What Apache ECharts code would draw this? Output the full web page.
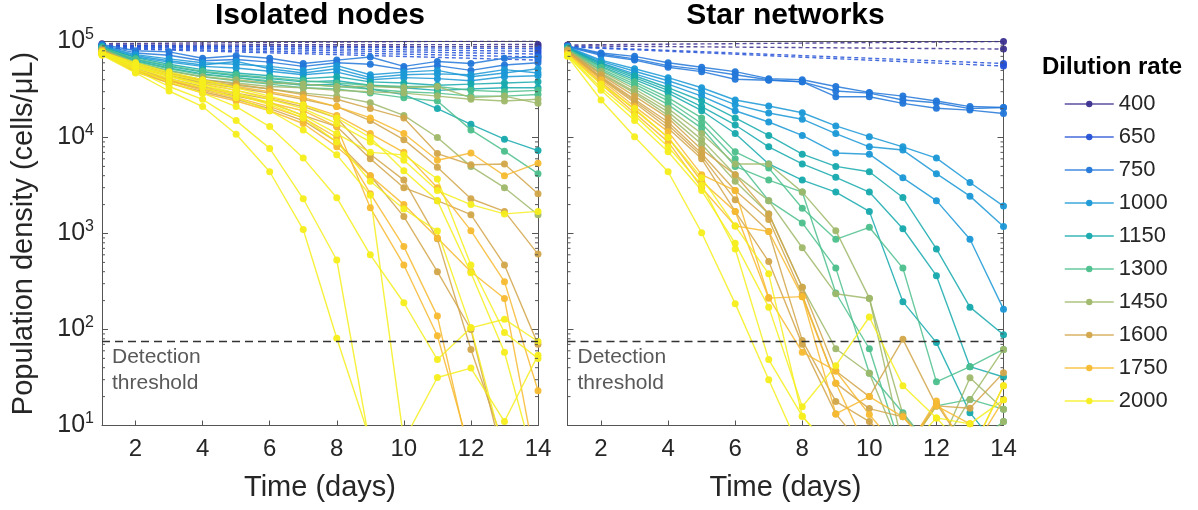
<!DOCTYPE html>
<html><head><meta charset="utf-8">
<script src="https://cdn.jsdelivr.net/npm/echarts@6/dist/echarts.min.js"></script>
<style>html,body{margin:0;padding:0;background:#fff}#c{width:1198px;height:510px}</style>
</head><body><div id="c"></div>
<script>
const days = [1,2,3,4,5,6,7,8,9,10,11,12,13,14];
const rates = ['400','650','750','1000','1150','1300','1450','1600','1750','2000'];
const rateColors = ['#3b2f8f','#2451d6','#2277d9','#1a98d6','#16a9ad','#4cbf8c','#9fb86a','#d2a64a','#f7ba30','#f5ee1c'];
const dashedRates = ['400','650'];
const panelTitles = ['Isolated nodes','Star networks'];
const xTickValues = [2,4,6,8,10,12,14];
const yTickValues = [10,100,1000,10000,100000];
const yTickExponents = ['1','2','3','4','5'];
const yMinorTickValues = [20,30,40,50,60,70,80,90,200,300,400,500,600,700,800,900,2000,3000,4000,5000,6000,7000,8000,9000,20000,30000,40000,50000,60000,70000,80000,90000];
const detectionThreshold = 75;

// ---------- Isolated nodes ----------
const iso400 = [
 [95000,null,null,null,null,null,null,null,null,null,null,null,null,102000],
 [92000,null,null,null,null,null,null,null,null,null,null,null,null,93000],
 [90000,null,null,null,null,null,null,null,null,null,null,null,null,88000]
];
const iso650 = [
 [91000,null,null,null,null,null,null,null,null,null,null,null,null,84000],
 [89000,null,null,null,null,null,null,null,null,null,null,null,null,79000],
 [88000,null,null,null,null,null,null,null,null,null,null,null,null,74000],
 [86000,null,null,null,null,null,null,null,null,null,null,null,null,69000],
 [85000,null,null,null,null,null,null,null,null,null,null,null,null,64000]
];
const iso750 = [
 [93000,80000,78000,67000,71000,67000,59000,64000,69000,55000,62000,59000,67000,69000],
 [91000,76000,72000,63000,65000,61000,55000,60000,58000,51000,56000,50000,57000,60000]
];
const iso1000 = [
 [90000,73000,66000,60000,58000,55000,50000,56000,45000,48000,50000,43000,47000,52000],
 [89000,71000,63000,57000,62000,52000,47000,52000,42000,45000,46000,45000,51000,47000],
 [87000,69000,61000,55000,53000,49000,45000,48000,40000,42000,41000,39000,43000,44000]
];
const iso1150 = [
 [88000,68000,58000,51000,47000,44000,41000,43000,38000,37000,35000,36000,37000,38000],
 [86000,65000,55000,48000,44000,41000,38000,39000,35000,33000,31000,32000,33000,33000],
 [85000,63000,53000,46000,42000,38000,35000,36000,32000,28000,20000,13700,9600,7300]
];
const iso1300 = [
 [86000,66000,56000,49000,45000,42000,39000,37000,35000,34000,34000,31000,30000,31000],
 [84000,62000,52000,45000,42000,39000,36000,34000,32000,30000,29000,27000,27000,28000],
 [82000,60000,50000,43000,39000,36000,33000,32000,29000,26000,24000,12000,7200,4200]
];
const iso1450 = [
 [83000,60000,49000,43000,40000,37000,36000,34000,34000,33000,34000,26000,27000,22700],
 [81000,57000,46000,40000,37000,34000,33000,31000,30000,29000,27000,25000,24000,25000],
 [79000,54000,44000,38000,35000,32000,29000,27000,23000,17000,10000,5000,3000,1570]
];
const iso1600 = [
 [81000,58000,47000,40000,36000,32000,28000,25000,20000,16000,6800,5200,5300,2600],
 [79000,55000,44000,37000,33000,29000,25000,21000,15000,9500,4900,2300,1700,610],
 [77000,52000,41000,34000,29000,25000,21000,16000,6700,3600,880,62,6,null],
 [76000,50000,39000,32000,27000,23000,17000,13000,6000,3000,2200,1570,470,70],
 [75000,49000,37000,30000,25000,20000,15000,9000,4000,1500,400,100,4,null]
];
const iso1750 = [
 [80000,57000,46000,39000,34000,30000,26000,21000,16000,11000,5800,6900,4000,5400],
 [78000,54000,43000,36000,31000,26000,22000,17000,11000,7000,3000,1070,315,23],
 [76000,51000,40000,33000,28000,23000,19000,13000,1850,470,86,5,null,null],
 [75000,50000,39000,31000,26000,21000,16000,10000,2600,730,138,4,null,null],
 [74000,48000,37000,29000,24000,19000,14000,8000,4000,2000,900,400,210,3]
];
const iso2000 = [
 [72000,47000,30500,21000,10800,4400,1100,81,7,null,null,null,null,null],
 [73000,50000,34000,25000,15000,7700,2300,530,6,null,null,null,null,null],
 [74000,52000,38000,29000,21000,13000,6100,2360,600,190,48.6,104,128,75],
 [75000,54000,41000,33000,26000,19000,12000,6600,2500,7,31.6,39.6,11,54],
 [76000,56000,44000,36000,29000,23000,17000,11000,7000,6600,3700,470,93,50],
 [77000,58000,46000,38000,31000,25000,20000,14000,9000,5800,2800,2000,1600,1700],
 [78000,60000,48000,40000,33000,27000,22000,16000,10000,4500,2200,390,58,3],
 [76000,55000,43000,35000,28000,22000,16000,9000,3500,1800,1060,104,5,null]
];

// ---------- Star networks ----------
const star400 = [
 [92000,null,null,null,null,null,null,null,null,null,null,null,null,100000],
 [90000,null,null,null,null,null,null,null,null,null,null,null,null,83500]
];
const star650 = [
 [89000,null,null,null,null,null,null,null,null,null,null,null,null,59000],
 [88000,null,null,null,null,null,null,null,null,null,null,null,null,55500]
];
const star750 = [
 [90000,76000,70000,60000,54000,48500,41000,40000,34000,29500,27000,24000,21000,20500],
 [89000,74000,66000,56000,51000,45000,40000,38000,30500,29000,24600,23000,20000,20500],
 [88000,72000,64000,54000,48500,40400,39500,38000,26600,26600,22700,20200,19300,17800]
];
const star1000 = [
 [88000,64000,52000,42000,33000,24600,21300,18100,13200,10200,8000,6100,3400,1930],
 [87000,62000,49000,39000,30000,22000,18000,15500,11000,8000,7400,4200,2450,1180],
 [86000,60000,46000,36000,27000,19000,14500,10500,6900,6700,3800,2200,870,163]
];
const star1150 = [
 [86000,59000,44000,33000,24000,16000,10500,6700,5000,4400,2370,690,171,88],
 [85000,57000,42000,31000,21000,13500,8000,5300,3850,2700,1120,364,41,32],
 [84000,55000,40000,29000,19000,11000,5300,3600,2700,1700,195,73,13.6,5]
];
const star1300 = [
 [84000,54000,38000,26000,16000,7100,4800,1830,870,1160,436,28.5,41,62],
 [83000,52000,36000,24000,14000,6000,2200,1290,436,35,13.6,5,6,11],
 [82000,50000,34000,22000,12500,5000,3600,2700,240,63,5,16,18.7,14.8]
];
const star1450 = [
 [82000,49000,32000,20000,11000,5300,5300,2700,1070,212,6,5,31.5,14.8],
 [81000,47000,30000,18500,9500,4100,2200,710,236,210,13,5,18.7,62],
 [80000,46000,29000,17000,8500,3500,1600,275,63,35,5,5,5,11]
];
const star1600 = [
 [80000,45000,27000,16000,7500,4100,1600,275,37,20,79,16,15.1,35.4],
 [79000,43000,25000,14500,6800,2800,1400,230,27.6,15,12.3,5,5,5],
 [78000,42000,24000,13500,6400,2250,1050,77,17.8,11,5,5,5,5],
 [77000,41000,23000,12500,6000,1700,510,70,13.2,5,5,17,5,5]
];
const star1750 = [
 [76000,40000,21000,11500,4100,2800,215,58,37,13,5,18,5,26],
 [75000,38000,19500,10000,3500,1700,212,220,27.6,5,5,16,10.4,5],
 [74000,36000,18000,9000,3000,1200,1050,220,13.2,20,12.3,5,5,18.5]
];
const star2000 = [
 [70000,24600,10200,4400,1020,186,30,5,null,null,null,null,null,null],
 [71000,31000,15000,7100,2800,790,171,15.7,42,135,26,12,10.4,18.5],
 [72000,33000,17000,8000,3200,690,48.6,12.5,5,null,null,null,null,null],
 [73000,36000,20000,10000,3800,1200,380,12.5,5,5,5,12,5,26]
];

const isolatedByRate = [iso400, iso650, iso750, iso1000, iso1150, iso1300, iso1450, iso1600, iso1750, iso2000];
const starByRate = [star400, star650, star750, star1000, star1150, star1300, star1450, star1600, star1750, star2000];

const FONT = "'Liberation Sans', Arial, Helvetica, sans-serif";
const AXIS_COLOR = '#555';
const TEXT_COLOR = '#262626';

const series = [];
[isolatedByRate, starByRate].forEach((panel, p) => {
  panel.forEach((rows, k) => {
    const rate = rates[k];
    const dashed = dashedRates.indexOf(rate) >= 0;
    rows.forEach((row) => {
      series.push({
        type: 'line', name: rate, xAxisIndex: p, yAxisIndex: p,
        data: days.map((d, i) => [d, row[i]]),
        connectNulls: dashed,
        symbol: 'circle', symbolSize: 7,
        lineStyle: { color: rateColors[k], width: 1.4, type: dashed ? [4, 3] : 'solid', opacity: 0.85 },
        itemStyle: { color: rateColors[k], opacity: 0.95 },
        emphasis: { disabled: true }, silent: true, animation: false
      });
    });
  });
  // detection threshold line
  series.push({
    type: 'line', name: 'threshold' + p, xAxisIndex: p, yAxisIndex: p, data: [],
    silent: true, animation: false,
    markLine: {
      silent: true, symbol: 'none', animation: false,
      lineStyle: { color: '#333', width: 1.4, type: [8, 5] },
      label: {
        show: true, position: 'insideStartBottom', formatter: 'Detection\nthreshold',
        fontSize: 21, lineHeight: 26, color: '#595959', fontFamily: FONT, align: 'left',
        distance: [10, 3]
      },
      data: [{ yAxis: detectionThreshold }]
    }
  });
  // minor log ticks on both sides
  series.push({
    type: 'custom', name: 'minor' + p, xAxisIndex: p, yAxisIndex: p, silent: true, animation: false, clip: false, z: 20,
    data: yMinorTickValues.map(v => [1, v]),
    renderItem: (params, api) => {
      const v = api.value(1);
      const a = api.coord([1, v]);
      const b = api.coord([14, v]);
      return { type: 'group', children: [
        { type: 'line', shape: { x1: a[0], y1: a[1], x2: a[0] + 3, y2: a[1] }, style: { stroke: AXIS_COLOR, lineWidth: 1 } },
        { type: 'line', shape: { x1: b[0] - 3, y1: b[1], x2: b[0], y2: b[1] }, style: { stroke: AXIS_COLOR, lineWidth: 1 } }
      ]};
    }
  });
});

const grids = [
  { left: 102, top: 41.5, width: 436, height: 384 },
  { left: 567.5, top: 41.5, width: 436, height: 384 }
];

const xAxes = [];
const yAxes = [];
['bottom', 'top'].forEach((pos) => {
  [0, 1].forEach((p) => {
    xAxes.push({
      type: 'value', gridIndex: p, min: 1, max: 14, position: pos,
      axisLine: { show: true, onZero: false, lineStyle: { color: AXIS_COLOR, width: 1 } },
      axisTick: { show: true, inside: true, length: 5, customValues: xTickValues, lineStyle: { color: AXIS_COLOR } },
      axisLabel: { show: pos === 'bottom', customValues: xTickValues, fontSize: 24, color: TEXT_COLOR, fontFamily: FONT, margin: 12 },
      splitLine: { show: false },
      name: pos === 'bottom' ? 'Time (days)' : '', nameLocation: 'middle', nameGap: 48,
      nameTextStyle: { fontSize: 29, color: TEXT_COLOR, fontFamily: FONT }
    });
  });
});
['left', 'right'].forEach((pos) => {
  [0, 1].forEach((p) => {
    const showLabel = pos === 'left' && p === 0;
    yAxes.push({
      type: 'log', logBase: 10, gridIndex: p, min: 10, max: 100000, position: pos,
      axisLine: { show: true, onZero: false, lineStyle: { color: AXIS_COLOR, width: 1 } },
      axisTick: { show: true, inside: true, length: 6, lineStyle: { color: AXIS_COLOR } },
      minorTick: { show: false },
      axisLabel: {
        show: showLabel, margin: 8, fontFamily: FONT, color: TEXT_COLOR,
        formatter: (v) => {
          let best = 0, bd = Infinity;
          yTickValues.forEach((t, i) => { const d = Math.abs(Math.log10(t) - Math.log10(v)); if (d < bd) { bd = d; best = i; } });
          return '{b|10}{s|' + yTickExponents[best] + '}';
        },
        rich: {
          b: { fontSize: 25, color: TEXT_COLOR, fontFamily: FONT },
          s: { fontSize: 16, color: TEXT_COLOR, fontFamily: FONT, padding: [0, 0, 14, 0] }
        }
      },
      splitLine: { show: false },
      name: showLabel ? 'Population density (cells/μL)' : '', nameLocation: 'middle', nameGap: 64,
      nameTextStyle: { fontSize: 29, color: TEXT_COLOR, fontFamily: FONT }
    });
  });
});

const chart = echarts.init(document.getElementById('c'), null, { renderer: 'canvas' });
chart.setOption({
  backgroundColor: '#fff',
  animation: false,
  title: [
    { text: panelTitles[0], left: 320, top: 1, padding: 0, textAlign: 'center', textStyle: { fontSize: 30, fontWeight: 'bold', color: '#000', fontFamily: FONT } },
    { text: panelTitles[1], left: 785.5, top: 1, padding: 0, textAlign: 'center', textStyle: { fontSize: 30, fontWeight: 'bold', color: '#000', fontFamily: FONT } },
    { text: 'Dilution rate', left: 1112, top: 55, padding: 0, textAlign: 'center', textStyle: { fontSize: 24, fontWeight: 'bold', color: '#000', fontFamily: FONT } }
  ],
  legend: {
    orient: 'vertical', left: 1064, top: 93, padding: 0,
    itemWidth: 49, itemHeight: 8, itemGap: 11,
    selectedMode: false,
    textStyle: { fontSize: 22, lineHeight: 22, color: TEXT_COLOR, fontFamily: FONT },
    data: rates.map((r) => ({ name: r, lineStyle: { type: 'solid', width: 1.5 } }))
  },
  grid: grids,
  xAxis: xAxes,
  yAxis: yAxes,
  series: series
});
</script>
</body></html>
